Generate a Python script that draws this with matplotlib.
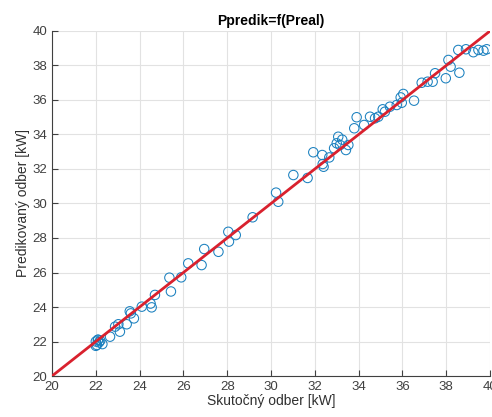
import numpy as np
import matplotlib
matplotlib.use('Agg')
import matplotlib.pyplot as plt

plt.rcParams['font.family'] = ['Liberation Sans', 'DejaVu Sans']

# skutocny odber vs predikovany odber
p_real = [22.0, 22.05, 22.1, 22.15, 22.0, 22.2, 22.3, 22.1,
          22.65, 22.88, 23.1, 23.03, 23.41, 23.6, 23.74, 23.55,
          24.1, 24.55, 24.5, 24.7, 25.36, 25.43, 25.9, 26.22,
          26.83, 26.95, 27.6, 28.05, 28.08, 28.39, 29.16,
          30.33, 30.23, 31.02, 31.67, 31.93, 32.36, 32.34, 32.4,
          32.66, 32.88, 33.0, 33.07, 33.15, 33.42, 33.53, 33.25,
          33.8, 33.91, 34.25, 34.52, 34.75, 34.9, 35.1, 35.2,
          35.43, 35.74, 35.92, 36.04, 35.97, 36.53, 36.88, 37.15,
          37.38, 37.49, 37.98, 38.1, 38.2, 38.6, 38.55, 38.9,
          39.24, 39.47, 39.7, 39.85]
p_pred = [22.0, 21.8, 22.1, 21.95, 21.75, 22.05, 21.85, 22.1,
          22.28, 22.86, 22.57, 23.0, 23.0, 23.63, 23.34, 23.75,
          24.02, 23.98, 24.2, 24.7, 25.7, 24.9, 25.72, 26.53,
          26.43, 27.36, 27.2, 28.36, 27.79, 28.17, 29.2,
          30.1, 30.63, 31.65, 31.48, 32.97, 32.29, 32.81, 32.13,
          32.67, 33.2, 33.49, 33.87, 33.39, 33.1, 33.39, 33.7,
          34.36, 35.0, 34.55, 35.03, 34.94, 35.03, 35.46, 35.32,
          35.61, 35.71, 36.15, 36.35, 35.84, 35.96, 37.0, 37.06,
          37.06, 37.55, 37.26, 38.32, 37.93, 37.58, 38.9, 38.94,
          38.77, 38.9, 38.86, 38.94]

ideal = [20, 40]
xticks = np.arange(20, 41, 2)
yticks = np.arange(20, 41, 2)

fig = plt.figure(figsize=(4.92, 4.17), dpi=100)
ax = fig.add_axes([0.1057, 0.0983, 0.8903, 0.8274])

ax.scatter(p_real, p_pred, s=46, facecolors='none',
           edgecolors=(0.1, 0.5, 0.75), linewidths=0.75, zorder=3)
ax.plot(ideal, ideal, color=(0.85, 0.13, 0.18), linewidth=2, zorder=4)

ax.set_xlim(20, 40)
ax.set_ylim(20, 40)
ax.set_xticks(xticks)
ax.set_yticks(yticks)
ax.grid(True, color='#e2e2e2', linewidth=0.8)
ax.set_axisbelow(True)
for s in ['top', 'right']:
    ax.spines[s].set_visible(False)
for s in ['left', 'bottom']:
    ax.spines[s].set_color('#404040')
    ax.spines[s].set_linewidth(0.8)
ax.tick_params(direction='in', length=4, color='#404040',
               labelsize=9.5, labelcolor='#404040')

ax.set_title('Ppredik=f(Preal)', fontsize=10, fontweight='bold', pad=4)
ax.set_xlabel('Skutočný odber [kW]', fontsize=10, color='#303030', labelpad=1)
ax.set_ylabel('Predikovaný odber [kW]', fontsize=10, color='#303030', labelpad=2)

fig.savefig('out.png', dpi=100)
